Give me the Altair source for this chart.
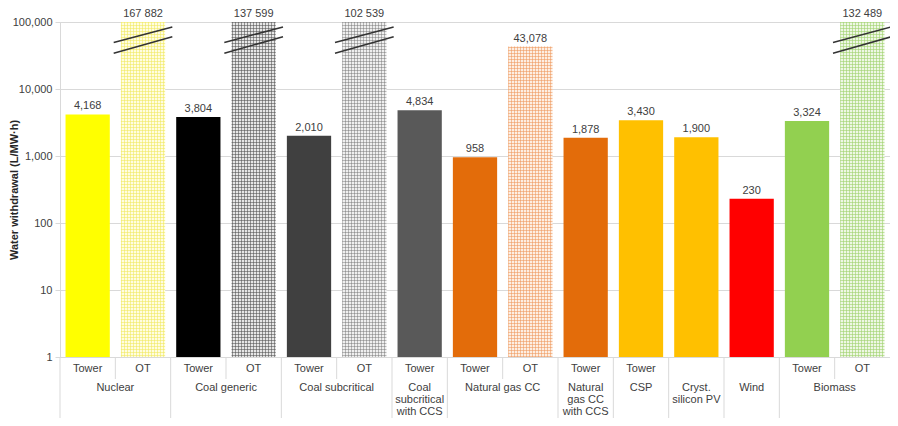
import altair as alt
import numpy as np
import pandas as pd

# ---- data ----
group_labels = ["Nuclear", "Coal generic", "Coal subcritical", "Coal\nsubcritical\nwith CCS",
                "Natural gas CC", "Natural\ngas CC\nwith CCS", "CSP", "Cryst.\nsilicon PV",
                "Wind", "Biomass"]
group_sizes = [2, 2, 2, 1, 2, 1, 1, 1, 1, 2]
sub_labels = ["Tower", "OT", "Tower", "OT", "Tower", "OT", "Tower", "Tower", "OT",
              "Tower", "Tower", "", "", "Tower", "OT"]
values = [4168, 167882, 3804, 137599, 2010, 102539, 4834, 958, 43078, 1878,
          3430, 1900, 230, 3324, 132489]
value_labels = ["4,168", "167 882", "3,804", "137 599", "2,010", "102 539", "4,834", "958",
                "43,078", "1,878", "3,430", "1,900", "230", "3,324", "132 489"]
colors = ["#ffff00", "#fffde0", "#000000", "#e6e6e6", "#404040", "#efefef", "#595959",
          "#e36c0a", "#fdeee2", "#e36c0a", "#ffc000", "#ffc000", "#ff0000", "#92d050",
          "#eef7e4"]
# hatched (once-through) bars: slot -> hatch line colour
hatch = {1: "rgba(240,232,90,0.55)", 3: "rgba(80,80,80,0.55)", 5: "rgba(110,110,110,0.45)",
         8: "rgba(238,150,90,0.55)", 14: "rgba(160,210,110,0.6)"}
# broken (off-scale) bars and the value levels of their break marks
break_slots = [1, 3, 5, 14]
break_lines = [(49400, 84500), (34200, 60400)]

YMAX = 100000
W, H = 830, 335
N = len(values)
slot_w = W / N

ink = "#404040"
font = "Liberation Sans"

slots = np.arange(N)
df = pd.DataFrame({
    "slot": slots,
    "x0": slots + 0.1,
    "x1": slots + 0.9,
    "xc": slots + 0.5,
    "value": values,
    "ytop": np.minimum(values, YMAX),
    "base": 1,
    "label": value_labels,
    "sub": sub_labels,
    "color": colors,
})

starts = np.concatenate([[0], np.cumsum(group_sizes)[:-1]])
gdf = pd.DataFrame({
    "glabel": group_labels,
    "gx": starts + np.array(group_sizes) / 2,
    "sx": starts,
})
inner = [s + 1 for s, n in zip(starts, group_sizes) if n == 2]
idf = pd.DataFrame({"sx": inner})

brows = []
for s in break_slots:
    for lo, hi in break_lines:
        brows.append({"bx0": s + 0.5 - 0.53, "bx1": s + 0.5 + 0.53, "by0": lo, "by1": hi})
bdf = pd.DataFrame(brows)

xs = alt.Scale(domain=[0, N], nice=False, zero=False)
ys = alt.Scale(type="log", domain=[1, YMAX], nice=False)

yaxis = alt.Axis(values=[1, 10, 100, 1000, 10000, 100000], format=",", grid=True,
                 gridColor="#d9d9d9", domainColor="#d9d9d9", tickColor="#d9d9d9",
                 tickSize=5, labelColor=ink, labelFontSize=11, labelFont=font,
                 labelPadding=3, title="Water withdrawal (L/MW·h)", titleFont=font,
                 titleFontSize=11, titleFontWeight="bold", titleColor="#262626",
                 titleX=-46, titleY=H / 2, titleBaseline="middle", titleAlign="center")

base = alt.Chart(df)

bars = base.mark_bar().encode(
    x=alt.X("x0:Q", scale=xs, axis=None),
    x2="x1:Q",
    y=alt.Y("ytop:Q", scale=ys, axis=yaxis),
    y2="base:Q",
    fill=alt.Fill("color:N", scale=None),
)


def stripes(length, pitch, color):
    stops = []
    k = 0
    while k * pitch < length:
        a = k * pitch / length
        b = min((k * pitch + 1) / length, 1)
        stops += [{"offset": a, "color": "rgba(0,0,0,0)"}, {"offset": a, "color": color},
                  {"offset": b, "color": color}, {"offset": b, "color": "rgba(0,0,0,0)"}]
        k += 1
    stops.append({"offset": 1, "color": "rgba(0,0,0,0)"})
    return stops


hatch_layers = []
bar_w = 0.8 * slot_w
for s, c in hatch.items():
    h_px = H * np.log10(min(values[s], YMAX)) / np.log10(YMAX)
    vgrad = {"gradient": "linear", "x1": 0, "x2": 1, "y1": 0, "y2": 0,
             "stops": stripes(bar_w, 3, c)}
    hgrad = {"gradient": "linear", "x1": 0, "x2": 0, "y1": 0, "y2": 1,
             "stops": stripes(h_px, 3, c)}
    for g in (vgrad, hgrad):
        hatch_layers.append(
            base.transform_filter(alt.datum.slot == s).mark_bar(fill=g).encode(
                x=alt.X("x0:Q", scale=xs), x2="x1:Q",
                y=alt.Y("ytop:Q", scale=ys), y2="base:Q"))

vlabels = base.mark_text(baseline="bottom", dy=-3, fontSize=11, font=font, color=ink).encode(
    x=alt.X("xc:Q", scale=xs), y=alt.Y("ytop:Q", scale=ys), text="label:N")

breaks = alt.Chart(bdf).mark_rule(color="#333333", strokeWidth=1.5).encode(
    x=alt.X("bx0:Q", scale=xs), x2="bx1:Q",
    y=alt.Y("by0:Q", scale=ys), y2="by1:Q")

sublab = base.mark_text(baseline="middle", fontSize=11, font=font, color=ink).encode(
    x=alt.X("xc:Q", scale=xs), y=alt.value(H + 12), text="sub:N")

grplab = alt.Chart(gdf).mark_text(baseline="top", fontSize=11, font=font, color=ink,
                                  lineBreak="\n", lineHeight=12).encode(
    x=alt.X("gx:Q", scale=xs), y=alt.value(H + 25), text="glabel:N")

gsep = alt.Chart(gdf).mark_rule(color="#d9d9d9").encode(
    x=alt.X("sx:Q", scale=xs), y=alt.value(H), y2=alt.value(H + 61))

isep = alt.Chart(idf).mark_rule(color="#d9d9d9").encode(
    x=alt.X("sx:Q", scale=xs), y=alt.value(H), y2=alt.value(H + 22))

chart = alt.layer(bars, *hatch_layers, breaks, vlabels, gsep, isep, sublab, grplab).properties(
    width=W, height=H,
    autosize=alt.AutoSizeParams(type="none"),
    padding={"left": 52, "top": 14, "right": 0, "bottom": 61},
).configure_view(stroke=None).configure(background="white")

chart.save("out.html", embed_options={"renderer": "svg", "actions": False})
